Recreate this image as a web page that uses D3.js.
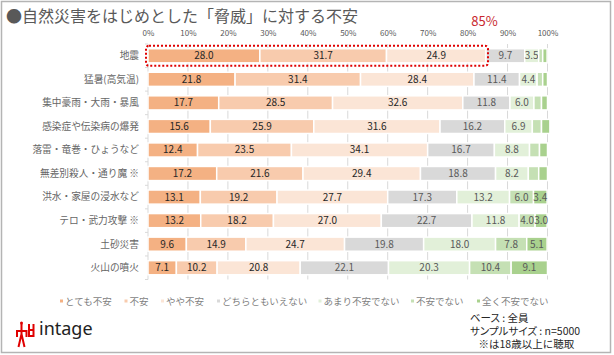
<!DOCTYPE html>
<html><head><meta charset="utf-8">
<script src="https://cdn.jsdelivr.net/npm/d3@7/dist/d3.min.js"></script>
<style>html,body{margin:0;padding:0;background:#fff}svg{display:block}text{font-family:"Noto Sans CJK JP","Noto Sans",sans-serif}</style>
</head><body><svg id="c" width="614" height="355"></svg>
<script>
const categories=["地震","猛暑(高気温)","集中豪雨・大雨・暴風","感染症や伝染病の爆発","落雷・竜巻・ひょうなど","無差別殺人・通り魔 ※","洪水・家屋の浸水など","テロ・武力攻撃 ※","土砂災害","火山の噴火"];
const seriesNames=["とても不安","不安","やや不安","どちらともいえない","あまり不安でない","不安でない","全く不安でない"];
const colors=["#f4b183","#f8cbad","#fbe5d6","#d9d9d9","#e2f0d9","#c5e0b4","#a9d18e"];
const v1=[28.0,21.8,17.7,15.6,12.4,17.2,13.1,13.2,9.6,7.1];
const v2=[31.7,31.4,28.5,25.9,23.5,21.6,19.2,18.2,14.9,10.2];
const v3=[24.9,28.4,32.6,31.6,34.1,29.4,27.7,27.0,24.7,20.8];
const v4=[9.7,11.4,11.8,16.2,16.7,18.8,17.3,22.7,19.8,22.1];
const v5=[3.5,4.4,6.0,6.9,8.8,8.2,13.2,11.8,18.0,20.3];
const v6=[1.0,1.4,1.9,2.3,2.5,2.6,6.0,4.0,7.8,10.4];
const v7=[1.1,1.2,1.5,2.1,2.0,2.2,3.4,3.0,5.1,9.1];
const showLabel6=[false,false,false,false,false,false,true,true,true,true];
const showLabel7=[false,false,false,false,false,false,true,true,true,true];
const ticks=[0,10,20,30,40,50,60,70,80,90,100];
const series=[v1,v2,v3,v4,v5,v6,v7];
const svg=d3.select("#c");
const x=d3.scaleLinear().domain([0,100]).range([148,547.5]);
const y=d3.scaleBand().domain(categories).range([44,279.5]).paddingInner(0.4).paddingOuter(0.2);
svg.append("rect").attr("x",1.5).attr("y",1.5).attr("width",609).attr("height",351).attr("fill","#fff").attr("stroke","#b4b4b4").attr("stroke-width",1.5);
svg.append("text").attr("x",6).attr("y",21.5).attr("font-size",16).attr("fill","#595959").text("●自然災害をはじめとした「脅威」に対する不安");
const ax=d3.axisTop(x).tickValues(ticks).tickFormat(d=>d+"%").tickSize(0);
const ag=svg.append("g").attr("transform","translate(0,35.5)").call(ax);
ag.select(".domain").remove();
ag.selectAll("text").attr("font-size",8).attr("fill","#595959").attr("y",0).attr("dy",0);
svg.append("g").selectAll("line").data(ticks).join("line").attr("x1",d=>x(d)).attr("x2",d=>x(d)).attr("y1",44).attr("y2",279.5).attr("stroke","#d9d9d9").attr("stroke-width",1);
const band=(279.5-44)/categories.length;
svg.append("g").selectAll("line").data(d3.range(categories.length+1)).join("line").attr("x1",145).attr("x2",148).attr("y1",i=>44+i*band).attr("y2",i=>44+i*band).attr("stroke","#d9d9d9");
categories.forEach((c,i)=>{
  let acc=0;
  series.forEach((s,k)=>{
    const val=s[i];const x0=x(acc),x1=x(acc+val);acc+=val;
    const yy=y(c);
    svg.append("rect").attr("x",x0).attr("y",yy).attr("width",Math.max(0,x1-x0)).attr("height",y.bandwidth()).attr("fill",colors[k]).attr("stroke","#fff").attr("stroke-width",1.5);
    const show=k<5||(k==5&&showLabel6[i])||(k==6&&showLabel7[i]);
    if(show)svg.append("text").attr("x",(x0+x1)/2).attr("y",yy+y.bandwidth()/2+3.5).attr("text-anchor","middle").attr("font-size",10).attr("fill",k<3?"#262626":"#595959").text(val.toFixed(1));
  });
  svg.append("text").attr("x",139).attr("y",y(c)+y.bandwidth()/2+3.4).attr("text-anchor","end").attr("font-size",9.7).attr("fill","#666").text(c);
});
svg.append("rect").attr("x",x(0)-2).attr("y",y(categories[0])-3).attr("width",x(84.6)-x(0)+4).attr("height",y.bandwidth()+6).attr("rx",3).attr("fill","none").attr("stroke","#e00000").attr("stroke-width",2).attr("stroke-dasharray","2 2");
svg.append("text").attr("x",484.5).attr("y",26).attr("text-anchor","middle").attr("font-size",13).attr("fill","#c8282d").text("85%");
const lx=[60,124.5,161,217,318.5,411,477];
seriesNames.forEach((n,i)=>{
  svg.append("rect").attr("x",lx[i]).attr("y",299.5).attr("width",3).attr("height",3).attr("fill",colors[i]);
  svg.append("text").attr("x",lx[i]+5).attr("y",304.5).attr("font-size",9.5).attr("fill","#7f7f7f").text(n);
});
const notes=["ベース : 全員","サンプルサイズ : n=5000","※は18歳以上に聴取"];
const nx=[470,470,478.5];
notes.forEach((t,i)=>svg.append("text").attr("x",nx[i]).attr("y",321.5+i*13).attr("font-size",10.5).attr("fill","#262626").style("font-feature-settings",i<2?"'palt'":"normal").text(t));
const logo=svg.append("g").attr("fill","none").attr("stroke","#e00000").attr("stroke-width",2);
logo.append("circle").attr("cx",21.5).attr("cy",323).attr("r",1.5).attr("fill","#e00000").attr("stroke","none");
logo.append("path").attr("d","M21.5 324V334L18.5 347M21.5 334L24.5 347M17 337V331H26.5V337");
logo.append("path").attr("d","M29 324V336H33.5V324M29 330H33.5");
svg.append("text").attr("x",39).attr("y",335).attr("font-size",18).attr("fill","#222").attr("style","font-family:'Noto Sans'").text("intage");
</script></body></html>
